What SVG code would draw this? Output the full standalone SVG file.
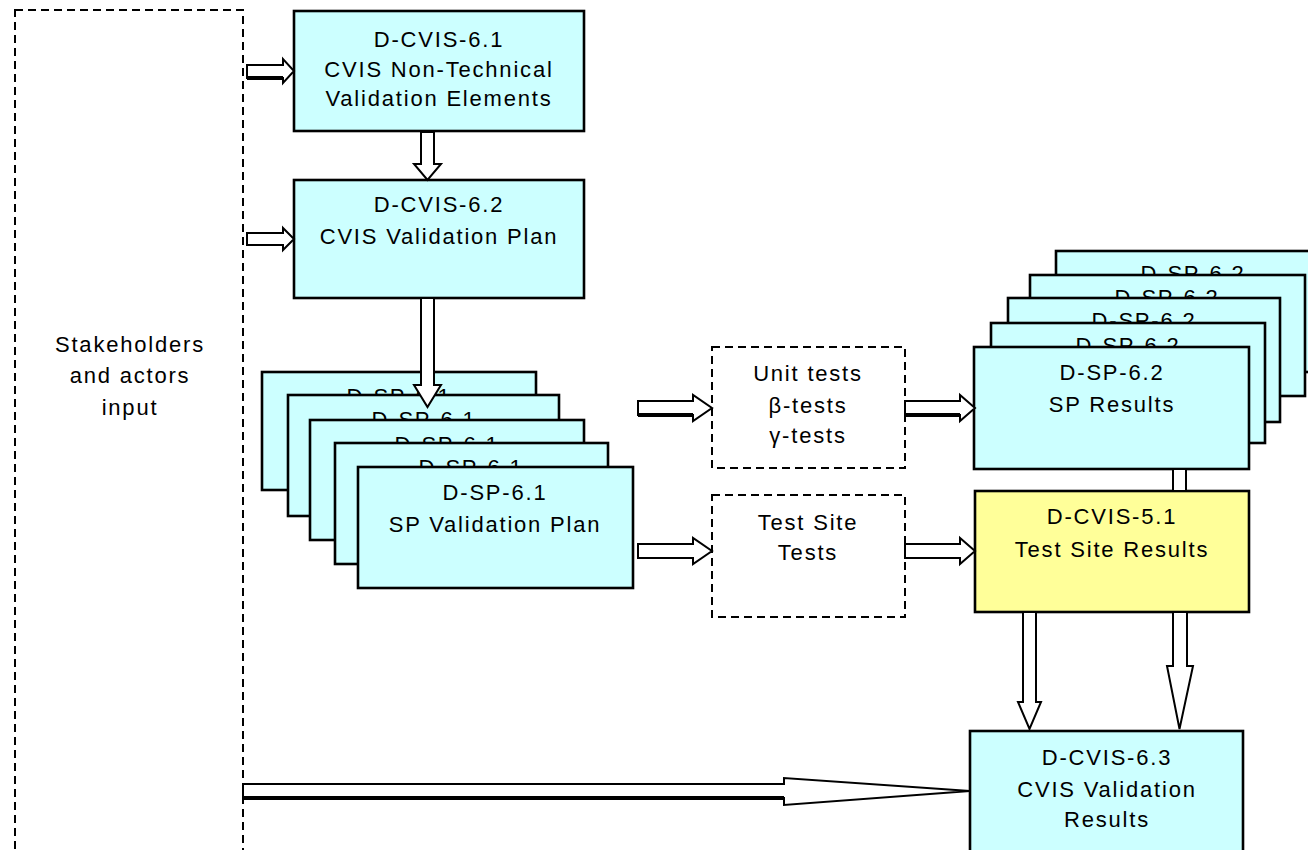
<svg xmlns="http://www.w3.org/2000/svg" width="1308" height="850" viewBox="0 0 1308 850">
<style>
text{font-family:"Liberation Sans",Arial,sans-serif;font-size:22px;letter-spacing:1.8px;fill:#000;text-anchor:middle}
.box{fill:#CCFFFF;stroke:#000;stroke-width:2.6}
.yel{fill:#FFFF99;stroke:#000;stroke-width:2.6}
.dash{fill:none;stroke:#000;stroke-width:2;stroke-dasharray:8 5}
.dashw{fill:#fff;stroke:#000;stroke-width:2;stroke-dasharray:8 5}
.arr{fill:#fff;stroke:#000;stroke-width:2;stroke-linejoin:miter}
.shd{stroke:#000;stroke-width:4;fill:none}
</style>
<rect width="1308" height="850" fill="#fff"/>

<g id="stakeholders">
<rect class="dash" x="15" y="10" width="228" height="900"/>
<text x="130" y="352">Stakeholders</text>
<text x="130" y="383">and actors</text>
<text x="130" y="415">input</text>
</g>

<g id="d-cvis-6-1">
<rect class="box" x="294" y="11" width="290" height="120"/>
<text x="439" y="47">D-CVIS-6.1</text>
<text x="439" y="77">CVIS Non-Technical</text>
<text x="439" y="106">Validation Elements</text>
</g>

<g id="d-cvis-6-2">
<rect class="box" x="294" y="180" width="290" height="118"/>
<text x="439" y="212">D-CVIS-6.2</text>
<text x="439" y="244">CVIS Validation Plan</text>
</g>

<g id="d-sp-6-1">
<rect class="box" x="262" y="372" width="274" height="118"/>
<text x="399" y="404">D-SP-6.1</text>
<rect class="box" x="288" y="395" width="271" height="121"/>
<text x="424" y="427">D-SP-6.1</text>
<rect class="box" x="310" y="420" width="274" height="120"/>
<text x="447" y="452">D-SP-6.1</text>
<rect class="box" x="335" y="443" width="273" height="121"/>
<text x="471" y="475">D-SP-6.1</text>
<rect class="box" x="358" y="467" width="275" height="121"/>
<text x="495" y="500">D-SP-6.1</text>
<text x="495" y="532">SP Validation Plan</text>
</g>

<g id="unit-tests">
<rect class="dashw" x="712" y="347" width="193" height="121"/>
<text x="808" y="381">Unit tests</text>
<text x="808" y="413">β-tests</text>
<text x="808" y="443">γ-tests</text>
</g>

<g id="test-site-tests">
<rect class="dashw" x="712" y="495" width="193" height="122"/>
<text x="808" y="530">Test Site</text>
<text x="808" y="560">Tests</text>
</g>

<g id="d-sp-6-2">
<rect class="box" x="1056" y="251" width="275" height="121"/>
<text x="1193" y="281">D-SP-6.2</text>
<rect class="box" x="1030" y="275" width="275" height="121"/>
<text x="1167" y="305">D-SP-6.2</text>
<rect class="box" x="1008" y="298" width="272" height="124"/>
<text x="1144" y="328">D-SP-6.2</text>
<rect class="box" x="991" y="323" width="274" height="120"/>
<text x="1128" y="353">D-SP-6.2</text>
<rect class="box" x="974" y="347" width="275" height="122"/>
<text x="1112" y="380">D-SP-6.2</text>
<text x="1112" y="412">SP Results</text>
</g>

<g id="d-cvis-5-1">
<rect class="yel" x="975" y="491" width="274" height="121"/>
<text x="1112" y="524">D-CVIS-5.1</text>
<text x="1112" y="557">Test Site Results</text>
</g>

<g id="d-cvis-6-3">
<rect class="box" x="970" y="731" width="273" height="140"/>
<text x="1107" y="765">D-CVIS-6.3</text>
<text x="1107" y="797">CVIS Validation</text>
<text x="1107" y="827">Results</text>
</g>

<g id="connectors">
<polygon class="arr" points="247,65 283,65 283,59 294,71 283,83 283,78 247,78"/>
<line class="shd" x1="247" y1="78" x2="283" y2="78"/>
<polygon class="arr" points="247,233 283,233 283,228 294,239 283,250 283,245 247,245"/>
<polygon class="arr" points="421,132 421,164 414,164 427.5,180 441,164 434,164 434,132"/>
<polygon class="arr" points="421,298 421,385 414,385 427.5,407 441,385 434,385 434,298"/>
<polygon class="arr" points="638,401 693,401 693,395 712,408 693,421 693,415 638,415"/>
<line class="shd" x1="638" y1="415" x2="693" y2="415"/>
<polygon class="arr" points="905,401 960,401 960,395 975,408 960,421 960,415 905,415"/>
<line class="shd" x1="905" y1="415" x2="960" y2="415"/>
<polygon class="arr" points="638,544 693,544 693,538 712,551 693,564 693,558 638,558"/>
<polygon class="arr" points="905,544 960,544 960,538 975,551 960,564 960,558 905,558"/>
<rect class="arr" x="1173" y="469" width="13" height="22"/>
<polygon class="arr" points="1023,612 1023,702 1018,702 1029.5,729 1041,702 1036,702 1036,612"/>
<polygon class="arr" points="1173,612 1173,666 1167,666 1179.5,729 1193,666 1187,666 1187,612"/>
<polygon class="arr" points="243,784 784,784 784,778 970,791 784,805 784,798 243,798"/>
<line class="shd" x1="243" y1="798" x2="784" y2="798" stroke-width="3"/>
</g>
</svg>
